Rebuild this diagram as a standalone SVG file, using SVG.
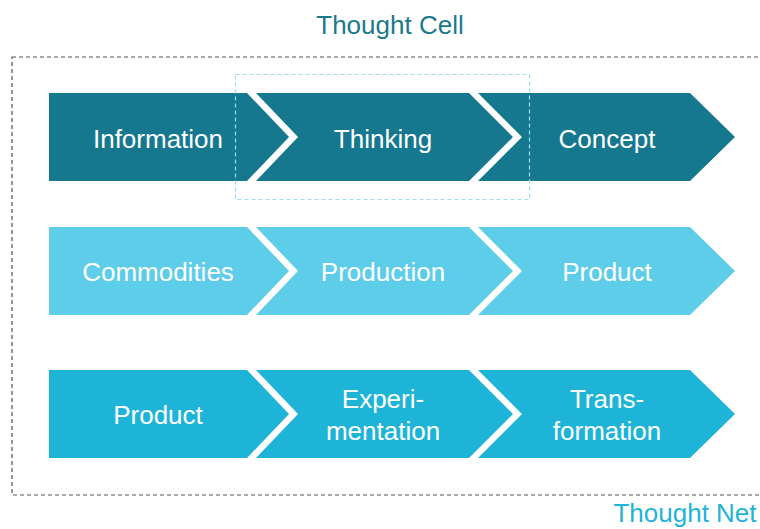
<svg xmlns="http://www.w3.org/2000/svg" width="760" height="529" viewBox="0 0 760 529">
<style>
.t{font-family:"Liberation Sans",Arial,sans-serif;font-size:26px;fill:#ffffff;text-anchor:middle}
.title{font-family:"Liberation Sans",Arial,sans-serif;font-size:26px;text-anchor:middle}
.r1{fill:#15788f}
.r2{fill:#5ecde9}
.r3{fill:#1eb4d8}
</style>
<rect x="12" y="57" width="760" height="438" fill="none" stroke="#5c5249" stroke-width="1.2" stroke-dasharray="4,3"/>
<text class="title" x="390" y="34" fill="#1a7a8c">Thought Cell</text>
<text class="title" x="685" y="522" fill="#1fb3d8" font-size="25">Thought Net</text>
<g id="row1">
<g id="information"><polygon class="r1" points="49,93 247,93 289,137 247,181 49,181"/><text class="t" x="158" y="148">Information</text></g>
<g id="thinking"><polygon class="r1" points="256,93 469,93 513,137 469,181 256,181 298,137"/><text class="t" x="383" y="148">Thinking</text></g>
<g id="concept"><polygon class="r1" points="478,93 690,93 735,137 690,181 478,181 522,137"/><text class="t" x="607" y="148">Concept</text></g>
</g>
<g id="row2">
<g id="commodities"><polygon class="r2" points="49,227 247,227 289,271 247,315 49,315"/><text class="t" x="158" y="281">Commodities</text></g>
<g id="production"><polygon class="r2" points="256,227 469,227 513,271 469,315 256,315 298,271"/><text class="t" x="383" y="281">Production</text></g>
<g id="product1"><polygon class="r2" points="478,227 690,227 735,271 690,315 478,315 522,271"/><text class="t" x="607" y="281">Product</text></g>
</g>
<g id="row3">
<g id="product2"><polygon class="r3" points="49,370 247,370 289,414 247,458 49,458"/><text class="t" x="158" y="424">Product</text></g>
<g id="experimentation"><polygon class="r3" points="256,370 469,370 513,414 469,458 256,458 298,414"/><text class="t" x="383" y="408">Experi-</text><text class="t" x="383" y="440">mentation</text></g>
<g id="transformation"><polygon class="r3" points="478,370 690,370 735,414 690,458 478,458 522,414"/><text class="t" x="607" y="408">Trans-</text><text class="t" x="607" y="440">formation</text></g>
</g>
<g id="connectors"></g>
<rect id="thought-cell-box" x="235.5" y="74.5" width="294" height="125" fill="none" stroke="#9fdcee" stroke-width="1.2" stroke-dasharray="4,3"/>
</svg>
